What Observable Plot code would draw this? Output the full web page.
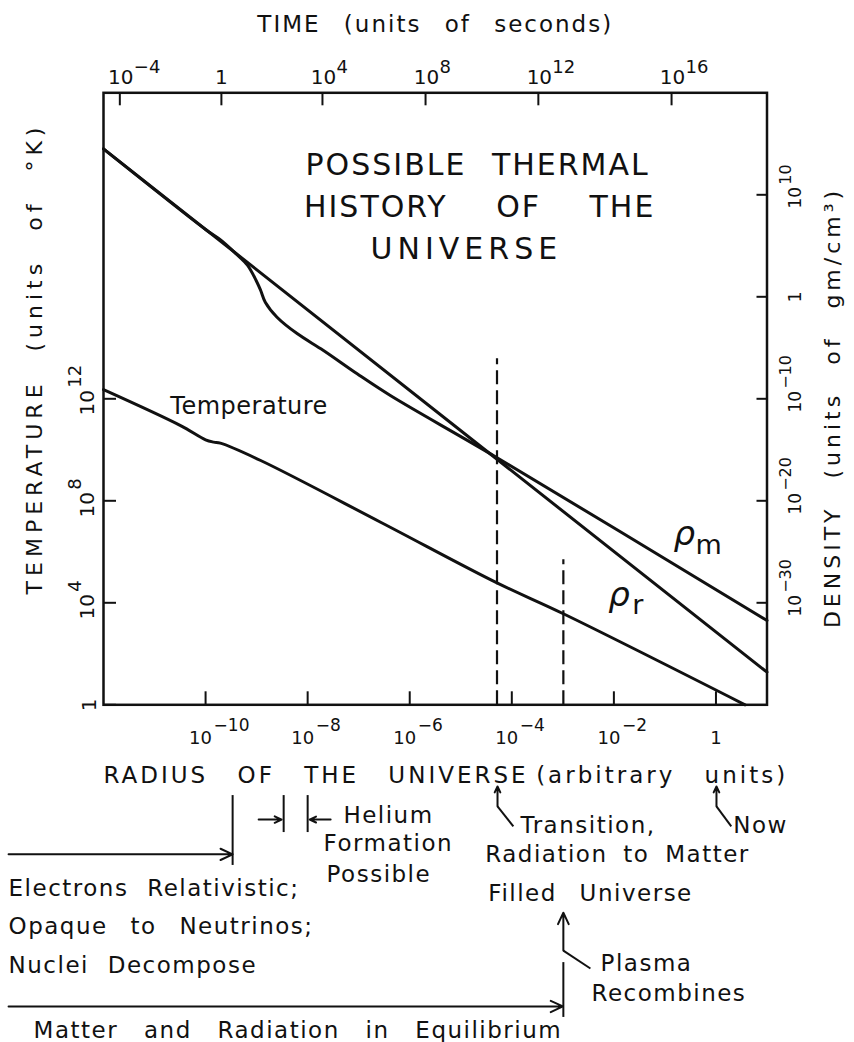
<!DOCTYPE html>
<html>
<head>
<meta charset="utf-8">
<script src="https://cdn.jsdelivr.net/npm/d3@7"></script>
<script src="https://cdn.jsdelivr.net/npm/@observablehq/plot@0.6"></script>
<style>
  html, body { margin: 0; padding: 0; background: #fff; }
  #chart svg text { font-family: "DejaVu Sans", sans-serif; fill: #111; }
</style>
</head>
<body>
<div id="chart"></div>
<script>
// ---------------- DATA (log10 values) ----------------
// Temperature curve: log10 R (radius, arbitrary units) vs log10 T (K)
const tempLogR = [-12, -10.49, -10.0, -9.84, -9.71, -8.92, -6.57, -4.29, -2.99, 0.57];
const tempLogT = [12.36, 10.95, 10.39, 10.30, 10.26, 9.58, 7.16, 4.78, 3.57, 0];

// Radiation density rho_r: log10 R vs log10 rho (g/cm^3)
const radLogR = [-12, 1.0];
const radLogRho = [14.5, -36.8];

// Matter density rho_m: log10 R vs log10 rho (g/cm^3)
const matLogR = [-12, -10.0, -9.7, -9.4, -9.18, -9.0, -8.92, -8.83, -8.6, -8.2, -7.69, -7.03, -6.38, -4.28, 1.0];
const matLogRho = [14.5, 6.6, 5.55, 4.2, 3.1, 1.5, 0.62, -0.53, -2.0, -3.63, -5.26, -7.55, -9.68, -15.8, -31.74];

// Epoch markers (dashed lines): log10 R of transition and recombination
const epochLogR = [-4.29, -2.99];
const epochTopLogT = [13.57, 5.69];

// Axis ticks
const radiusTickExp = [-10, -8, -6, -4, -2, 0];                   // bottom: R = 10^k
const timeTickExp = [-4, 0, 4, 8, 12, 16];                        // top: t = 10^k s
const timeTickLogR = [-11.68, -9.69, -7.71, -5.69, -3.48, -0.87]; // where those times fall in log10 R
const tempTickExp = [0, 4, 8, 12];                                // left: T = 10^k K
const densTickExp = [-30, -20, -10, 0, 10];                       // right: rho = 10^k g/cm^3

// Density axis shares the vertical scale with temperature: 10 density decades per 4 temperature decades,
// rho = 1e-40 at T = 1.
const rhoToT = r => (r + 40) / 2.5;

// ---------------- build tables ----------------
const tempData = tempLogR.map((r, i) => ({r, v: tempLogT[i]}));
const radData = radLogR.map((r, i) => ({r, v: rhoToT(radLogRho[i])}));
const matData = matLogR.map((r, i) => ({r, v: rhoToT(matLogRho[i])}));
const epochs = epochLogR.map((r, i) => ({r, top: epochTopLogT[i]}));
const timeTicks = timeTickLogR.map((r, i) => ({r, e: timeTickExp[i]}));
const sup = e => String(e).replace("-", "\u2212");

// ---------------- text ----------------
const timeTitle = "TIME (units of seconds)";
const radiusTitle = "RADIUS OF THE UNIVERSE\u2009(arbitrary units)";
const tempTitle = "TEMPERATURE (units of \u00B0K)";
const densTitle = "DENSITY (units of gm/cm\u00B3)";
const titleLines = [
  {text: "POSSIBLE THERMAL", x: -4.67, y: 20.76},
  {text: "HISTORY OF THE", x: -4.63, y: 19.11},
  {text: "UNIVERSE", x: -4.89, y: 17.50}
];
const notes = [
  {text: "Helium", x: -7.30, y: -4.62},
  {text: "Formation", x: -7.69, y: -5.75},
  {text: "Possible", x: -7.63, y: -6.93},
  {text: "Transition,", x: -3.83, y: -5.01},
  {text: "Radiation to Matter", x: -4.52, y: -6.18},
  {text: "Filled Universe", x: -4.46, y: -7.68},
  {text: "Now", x: 0.34, y: -5.01},
  {text: "Electrons Relativistic;", x: -13.86, y: -7.48},
  {text: "Opaque to Neutrinos;", x: -13.86, y: -8.97},
  {text: "Nuclei Decompose", x: -13.86, y: -10.50},
  {text: "Plasma", x: -2.26, y: -10.42},
  {text: "Recombines", x: -2.44, y: -11.60},
  {text: "Matter and Radiation in Equilibrium", x: -13.37, y: -13.05}
];
const arrows = [
  {x1: -13.86, y1: -5.865, x2: -9.47, y2: -5.865},
  {x1: -8.96, y1: -4.50, x2: -8.51, y2: -4.50},
  {x1: -7.55, y1: -4.50, x2: -7.96, y2: -4.50},
  {x1: -4.28, y1: -3.98, x2: -4.28, y2: -3.20},
  {x1: 0.01, y1: -3.98, x2: 0.01, y2: -3.20},
  {x1: -2.99, y1: -9.64, x2: -2.99, y2: -8.15},
  {x1: -13.86, y1: -11.83, x2: -3.00, y2: -11.83}
];
const bars = [
  {x: -9.47, y1: -3.56, y2: -6.30},
  {x: -8.47, y1: -3.56, y2: -5.01},
  {x: -8.00, y1: -3.56, y2: -5.01},
  {x: -2.99, y1: -10.11, y2: -12.26}
];
const leaders = [
  {x1: -4.28, y1: -3.98, x2: -3.97, y2: -4.77},
  {x1: 0.01, y1: -3.98, x2: 0.30, y2: -4.77},
  {x1: -2.99, y1: -9.64, x2: -2.46, y2: -10.34}
];

// tick lengths expressed in scale units
const tickLenY = 13 / 25.5, tickLenX = 13 / 51.04, tickLenXR = 10 / 51.04;

const chart = Plot.plot({
  width: 854,
  height: 1042,
  marginTop: 92.3,
  marginBottom: 337.7,
  marginLeft: 103,
  marginRight: 87.5,
  x: {domain: [-12, 1], axis: null},
  y: {domain: [0, 24], axis: null},
  style: {background: "white", fontFamily: "DejaVu Sans", color: "#111"},
  marks: [
    Plot.frame({stroke: "#111", strokeWidth: 2.5}),
    // ticks
    Plot.ruleX(radiusTickExp, {x: d => d, y1: 0, y2: tickLenY, stroke: "#111", strokeWidth: 2}),
    Plot.ruleX(timeTicks, {x: "r", y1: 24 - tickLenY, y2: 24, stroke: "#111", strokeWidth: 2}),
    Plot.ruleY(tempTickExp, {y: d => d, x1: -12, x2: -12 + tickLenX, stroke: "#111", strokeWidth: 2}),
    Plot.ruleY(densTickExp, {y: d => rhoToT(d), x1: 1 - tickLenXR, x2: 1, stroke: "#111", strokeWidth: 2}),
    // bottom tick labels (radius)
    Plot.text(radiusTickExp.filter(e => e !== 0), {x: d => d, text: () => "10", frameAnchor: "bottom", dy: 38.7, dx: -5, lineAnchor: "bottom", textAnchor: "middle", fontSize: 18}),
    Plot.text(radiusTickExp.filter(e => e !== 0), {x: d => d, text: d => sup(d), frameAnchor: "bottom", dy: 25.7, dx: 8, lineAnchor: "bottom", textAnchor: "start", fontSize: 17}),
    Plot.text(radiusTickExp.filter(e => e === 0), {x: d => d, text: () => "1", frameAnchor: "bottom", dy: 38.7, lineAnchor: "bottom", textAnchor: "middle", fontSize: 18}),
    // top tick labels (time)
    Plot.text(timeTicks.filter(d => d.e !== 0), {x: "r", text: () => "10", frameAnchor: "top", dy: -9.3, dx: 1, lineAnchor: "bottom", textAnchor: "middle", fontSize: 20}),
    Plot.text(timeTicks.filter(d => d.e !== 0), {x: "r", text: d => sup(d.e), frameAnchor: "top", dy: -20.3, dx: 14, lineAnchor: "bottom", textAnchor: "start", fontSize: 18}),
    Plot.text(timeTicks.filter(d => d.e === 0), {x: "r", text: () => "1", frameAnchor: "top", dy: -9.3, lineAnchor: "bottom", textAnchor: "middle", fontSize: 20}),
    // left tick labels (temperature), rotated
    Plot.text(tempTickExp.filter(e => e !== 0), {y: d => d, text: () => "10", frameAnchor: "left", dx: -10, dy: 4, rotate: -90, lineAnchor: "bottom", textAnchor: "middle", fontSize: 20}),
    Plot.text(tempTickExp.filter(e => e !== 0), {y: d => d, text: d => sup(d), frameAnchor: "left", dx: -23, dy: -11, rotate: -90, lineAnchor: "bottom", textAnchor: "start", fontSize: 18}),
    Plot.text(tempTickExp.filter(e => e === 0), {y: d => d, text: () => "1", frameAnchor: "left", dx: -8, rotate: -90, lineAnchor: "bottom", textAnchor: "middle", fontSize: 20}),
    // right tick labels (density), rotated
    Plot.text(densTickExp.filter(e => e !== 0), {y: d => rhoToT(d), text: () => "10", frameAnchor: "right", dx: 33.5, dy: 3, rotate: -90, lineAnchor: "bottom", textAnchor: "middle", fontSize: 17}),
    Plot.text(densTickExp.filter(e => e !== 0), {y: d => rhoToT(d), text: d => sup(d), frameAnchor: "right", dx: 23.5, dy: -10, rotate: -90, lineAnchor: "bottom", textAnchor: "start", fontSize: 16}),
    Plot.text(densTickExp.filter(e => e === 0), {y: d => rhoToT(d), text: () => "1", frameAnchor: "right", dx: 33.5, rotate: -90, lineAnchor: "bottom", textAnchor: "middle", fontSize: 17}),
    // axis titles
    Plot.text([timeTitle], {x: -5.5, y: 26.37, text: d => d, lineAnchor: "bottom", textAnchor: "middle", fontSize: 23}),
    Plot.text([radiusTitle], {x: -12, y: -3.05, text: d => d, lineAnchor: "bottom", textAnchor: "start", fontSize: 23}),
    Plot.text([tempTitle], {x: -13.2, y: 13.58, text: d => d, rotate: -90, lineAnchor: "bottom", textAnchor: "middle", fontSize: 22}),
    Plot.text([densTitle], {x: 2.44, y: 11.66, text: d => d, rotate: -90, lineAnchor: "bottom", textAnchor: "middle", fontSize: 22}),
    // chart title inside the frame
    Plot.text(titleLines, {x: "x", y: "y", text: "text", lineAnchor: "bottom", textAnchor: "middle", fontSize: 30}),
    // epoch dashed lines
    Plot.ruleX(epochs, {x: "r", y1: 0, y2: "top", stroke: "#111", strokeWidth: 2.2, strokeDasharray: "14,6"}),
    // curves
    Plot.line(radData, {x: "r", y: "v", stroke: "#111", strokeWidth: 3}),
    Plot.line(matData, {x: "r", y: "v", stroke: "#111", strokeWidth: 3, curve: "catmull-rom"}),
    Plot.line(tempData, {x: "r", y: "v", stroke: "#111", strokeWidth: 3, curve: "catmull-rom"}),
    // curve labels
    Plot.text(["Temperature"], {x: -10.69, y: 11.42, text: d => d, lineAnchor: "bottom", textAnchor: "start", fontSize: 24}),
    Plot.text(["\u03C1"], {x: -0.83, y: 6.25, text: d => d, lineAnchor: "bottom", textAnchor: "start", fontSize: 34, fontStyle: "italic"}),
    Plot.text(["m"], {x: -0.40, y: 5.93, text: d => d, lineAnchor: "bottom", textAnchor: "start", fontSize: 27}),
    Plot.text(["\u03C1"], {x: -2.11, y: 3.89, text: d => d, lineAnchor: "bottom", textAnchor: "start", fontSize: 34, fontStyle: "italic"}),
    Plot.text(["r"], {x: -1.64, y: 3.58, text: d => d, lineAnchor: "bottom", textAnchor: "start", fontSize: 27}),
    // annotations below the chart
    Plot.ruleX(bars, {x: "x", y1: "y1", y2: "y2", stroke: "#111", strokeWidth: 2}),
    Plot.arrow(arrows, {x1: "x1", y1: "y1", x2: "x2", y2: "y2", stroke: "#111", strokeWidth: 2, headLength: 10, headAngle: 50}),
    Plot.link(leaders, {x1: "x1", y1: "y1", x2: "x2", y2: "y2", stroke: "#111", strokeWidth: 2}),
    Plot.text(notes, {x: "x", y: "y", text: "text", lineAnchor: "bottom", textAnchor: "start", fontSize: 23})
  ]
});

// hand-lettered look: wide letter and word spacing per text
const spacing = [
  {texts: ["Matter and Radiation in Equilibrium"], ls: 1.5, ws: 17},
  {texts: ["Opaque to Neutrinos;", "Filled Universe"], ls: 1.5, ws: 14},
  {texts: ["Radiation to Matter"], ls: 1.5, ws: 7},
  {texts: notes.map(d => d.text), ls: 1.5, ws: 10},
  {texts: ["POSSIBLE THERMAL"], ls: 2, ws: 14},
  {texts: ["HISTORY OF THE"], ls: 2, ws: 37},
  {texts: ["UNIVERSE"], ls: 5, ws: 0},
  {texts: [timeTitle], ls: 2, ws: 14},
  {texts: [radiusTitle], ls: 3, ws: 19},
  {texts: [tempTitle], ls: 5, ws: 16},
  {texts: [densTitle], ls: 4, ws: 16},
  {texts: ["Temperature"], ls: 0.5, ws: 0}
];
chart.querySelectorAll("text").forEach(t => {
  const s = spacing.find(s => s.texts.includes(t.textContent));
  if (s) {
    t.style.letterSpacing = s.ls + "px";
    t.style.wordSpacing = s.ws + "px";
  }
});
document.getElementById("chart").appendChild(chart);
</script>
</body>
</html>
